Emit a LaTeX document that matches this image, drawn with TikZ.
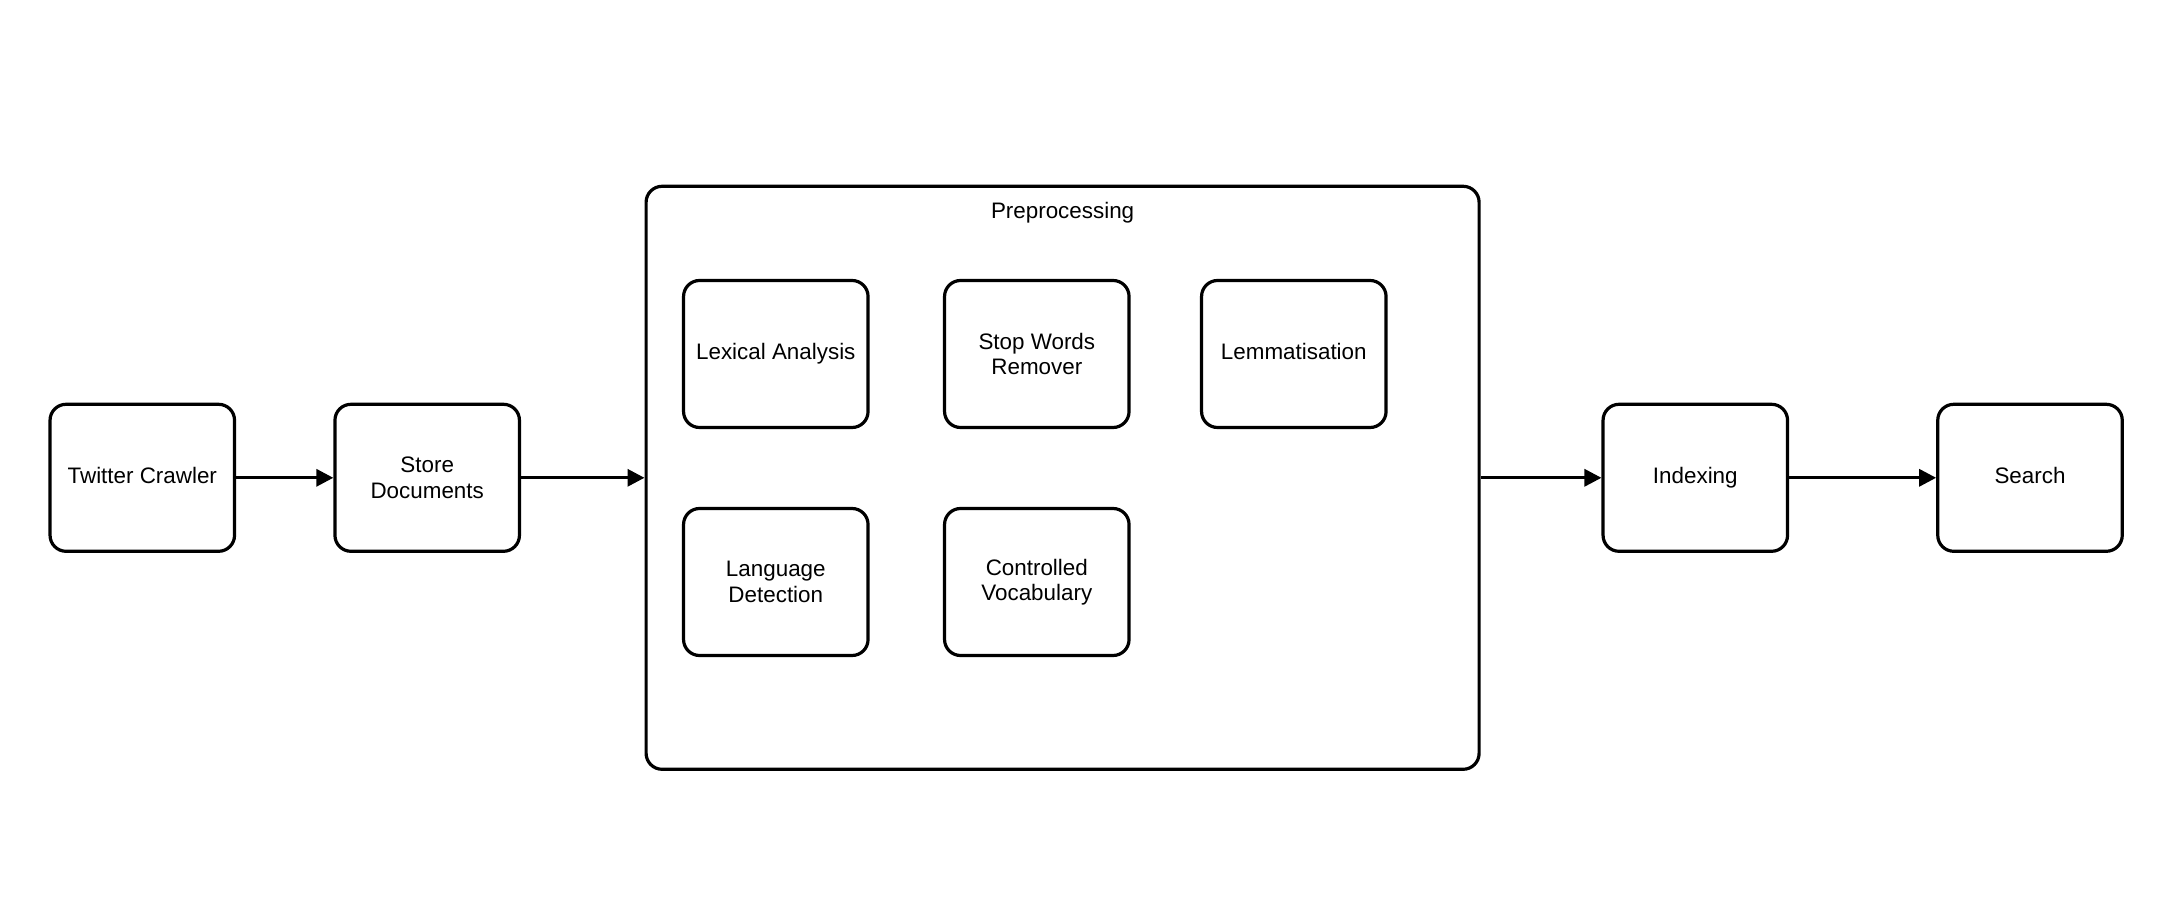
\documentclass[tikz,border=0pt]{standalone}
\usepackage{fontspec}
\setmainfont{Liberation Sans}
\usetikzlibrary{arrows.meta}
\begin{document}
\begin{tikzpicture}[x=0.5pt,y=-0.5pt,
  box/.style={draw, line width=1.6pt, rounded corners=8pt, minimum width=92.25pt, minimum height=73.5pt, align=center, inner sep=0pt, font={\fontsize{11.2}{12.6}\selectfont}},
  onebox/.style={box, text height=8pt, text depth=2.2pt},
  container/.style={draw, line width=1.6pt, rounded corners=8pt, minimum width=416.5pt, minimum height=291.5pt, inner sep=0pt},
  lbl/.style={font={\fontsize{11.2}{12.6}\selectfont}, inner sep=0pt},
  flow/.style={line width=1.6pt, -{Triangle[length=8.5pt,width=8.5pt]}}]
\useasboundingbox (0,0) rectangle (2178,908);
\node[container] (pre) at (1062.6,477.8) {};
\node[lbl] (pretitle) at (1062.6,212.5) {Preprocessing};
\node[onebox] (tw) at (142.3,477.8) {Twitter Crawler};
\node[box] (store) at (427.2,477.8) {Store\\Documents};
\node[onebox] (lex) at (775.8,354) {Lexical Analysis};
\node[box] (stop) at (1036.8,354) {Stop Words\\Remover};
\node[onebox] (lem) at (1293.8,354) {Lemmatisation};
\node[box] (lang) at (775.8,582) {Language\\Detection};
\node[box] (voc) at (1036.8,582) {Controlled\\Vocabulary};
\node[onebox] (idx) at (1695.3,477.8) {Indexing};
\node[onebox] (search) at (2030,477.8) {Search};
\draw[flow] (tw) -- (store);
\draw[flow] (store) -- (pre);
\draw[flow] (pre) -- (idx);
\draw[flow] (idx) -- (search);
\end{tikzpicture}
\end{document}
